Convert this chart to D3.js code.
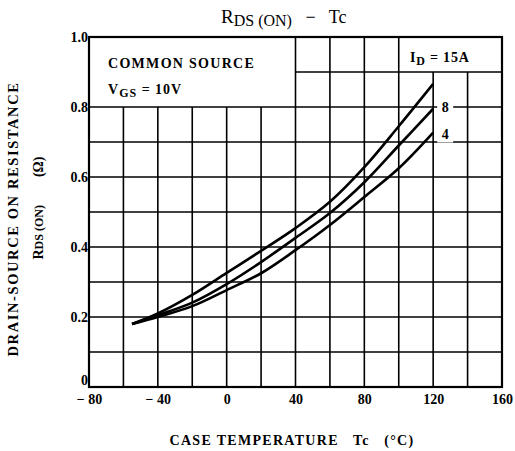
<!DOCTYPE html>
<html><head><meta charset="utf-8">
<script src="https://cdn.jsdelivr.net/npm/d3@7"></script>
<style>
body{margin:0;background:#fff;}
svg text{font-family:"Liberation Serif","Times New Roman",serif;fill:#000;white-space:pre;}
</style></head>
<body><svg id="c" width="515" height="451"></svg>
<script>
const temps = [-55, -40, -20, 0, 20, 40, 60, 80, 100, 120];
const r15A = [0.180, 0.210, 0.263, 0.326, 0.389, 0.454, 0.529, 0.628, 0.745, 0.866];
const r8A  = [0.180, 0.205, 0.241, 0.294, 0.357, 0.426, 0.497, 0.585, 0.690, 0.795];
const r4A  = [0.180, 0.200, 0.231, 0.277, 0.325, 0.391, 0.463, 0.543, 0.625, 0.727];
const seriesNames = ["15A", "8", "4"];
const xTicks = [-80, -40, 0, 40, 80, 120, 160];
const yTicks = [0, 0.2, 0.4, 0.6, 0.8, 1.0];
const xGrid = d3.range(-80, 161, 20);
const yGrid = d3.range(0, 1.01, 0.1);

const svg = d3.select("#c");
const x = d3.scaleLinear().domain([-80, 160]).range([89, 502]);
const y = d3.scaleLinear().domain([0, 1]).range([387, 37]);

const g = svg.append("g");
yGrid.forEach(v => {
  v = Math.round(v * 10) / 10;
  if (v === 0 || v === 1) return;
  let x0 = -80;
  if (v === 0.9) x0 = 40;
  g.append("line").attr("x1", x(x0)).attr("x2", x(160)).attr("y1", y(v)).attr("y2", y(v))
    .attr("stroke", "#000").attr("stroke-width", 1.6);
});
xGrid.forEach(v => {
  if (v === -80 || v === 160) return;
  let top = 1.0;
  if (v < 40) top = 0.8;
  else if (v > 100) top = 0.9;
  g.append("line").attr("x1", x(v)).attr("x2", x(v)).attr("y1", y(0)).attr("y2", y(top))
    .attr("stroke", "#000").attr("stroke-width", 1.6);
});
g.append("rect").attr("x", x(-80)).attr("y", y(1)).attr("width", x(160) - x(-80)).attr("height", y(0) - y(1))
  .attr("fill", "none").attr("stroke", "#000").attr("stroke-width", 2.2);

const line = d3.line().x((d, i) => x(temps[i])).y(d => y(d)).curve(d3.curveCatmullRom.alpha(0.5));
[r15A, r8A, r4A].forEach(s => {
  g.append("path").attr("d", line(s)).attr("fill", "none").attr("stroke", "#000").attr("stroke-width", 2.6);
});

[[r8A, "8"], [r4A, "4"]].forEach(([s, lab]) => {
  const yy = lab === "8" ? y(0.8) : y(0.73) + 2;
  g.append("rect").attr("x", x(120) + 4).attr("y", yy - 9).attr("width", 16).attr("height", 18).attr("fill", "#fff");
  g.append("text").attr("x", x(120) + 12).attr("y", yy + 5).attr("text-anchor", "middle")
    .attr("font-size", 14).attr("font-weight", "bold").text(lab);
});

g.append("text").attr("x", 108).attr("y", 68).attr("font-size", 14).attr("font-weight", "bold")
  .attr("letter-spacing", 1.3).text("COMMON SOURCE");
const vt = g.append("text").attr("x", 108).attr("y", 94).attr("font-size", 14).attr("font-weight", "bold")
  .attr("letter-spacing", 1);
vt.append("tspan").text("V");
vt.append("tspan").attr("font-size", 12).attr("dy", 3).text("GS");
vt.append("tspan").attr("dy", -3).text(" = 10V");
const it = g.append("text").attr("x", 410).attr("y", 62).attr("font-size", 14).attr("font-weight", "bold")
  .attr("letter-spacing", 0.8);
it.append("tspan").text("I");
it.append("tspan").attr("font-size", 12).attr("dy", 3).text("D");
it.append("tspan").attr("dy", -3).text(" = 15A");

const fmtX = d => d < 0 ? "\u2212 " + Math.abs(d) : String(d);
const xa = svg.append("g").attr("transform", `translate(0,${y(0)})`)
  .call(d3.axisBottom(x).tickValues(xTicks).tickSize(0).tickPadding(7).tickFormat(fmtX));
xa.select(".domain").remove();
xa.selectAll("text").attr("font-size", 14).attr("font-weight", "bold")
  .style("font-family", "'Liberation Serif',serif");

const fmtY = d => d === 0 ? "0" : d3.format(".1f")(d);
const ya = svg.append("g").attr("transform", `translate(${x(-80)},0)`)
  .call(d3.axisLeft(y).tickValues(yTicks).tickSize(0).tickPadding(1).tickFormat(fmtY));
ya.select(".domain").remove();
ya.selectAll("text").attr("font-size", 14).attr("font-weight", "bold")
  .style("font-family", "'Liberation Serif',serif")
  .attr("dy", d => d === 0 ? "-0.2em" : "0.3em");

const t = svg.append("text").attr("x", 221).attr("y", 23).attr("font-size", 19);
t.append("tspan").text("R");
t.append("tspan").attr("font-size", 16).attr("dy", 3).text("DS (ON)");
t.append("tspan").attr("dy", -3).attr("font-size", 18).text("   \u2212   Tc");

svg.append("text").attr("x", 292).attr("y", 445).attr("text-anchor", "middle")
  .attr("font-size", 14).attr("font-weight", "bold").attr("letter-spacing", 1.3)
  .text("CASE TEMPERATURE   Tc   (\u00B0C)");

svg.append("text").attr("transform", "translate(18,219) rotate(-90)").attr("text-anchor", "middle")
  .attr("font-size", 14.5).attr("font-weight", "bold").attr("letter-spacing", 1.6)
  .text("DRAIN-SOURCE ON RESISTANCE");
const y2 = svg.append("text").attr("transform", "translate(43,208) rotate(-90)").attr("text-anchor", "middle")
  .attr("font-size", 14).attr("font-weight", "bold");
y2.append("tspan").text("R");
y2.append("tspan").attr("font-size", 12).text("DS (ON)");
y2.append("tspan").text("        (\u03A9)");
</script></body></html>
